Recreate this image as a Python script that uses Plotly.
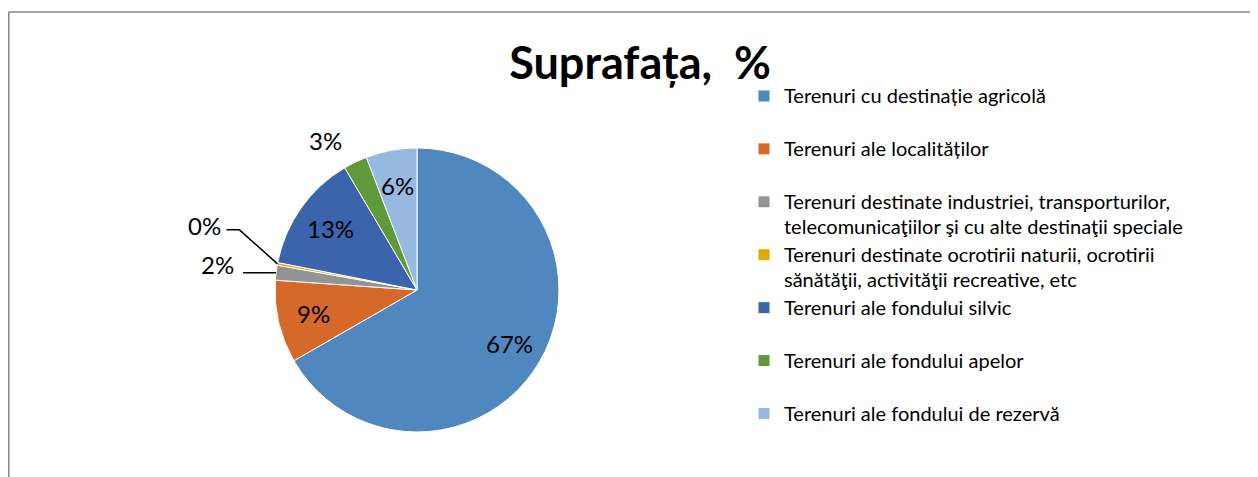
import math
import plotly.graph_objects as go

categories = [
    "Terenuri cu destinație agricolă",
    "Terenuri ale localităților",
    "Terenuri destinate industriei, transporturilor,<br>telecomunicaţiilor şi cu alte destinaţii speciale",
    "Terenuri destinate ocrotirii naturii, ocrotirii<br>sănătăţii, activităţii recreative, etc",
    "Terenuri ale fondului silvic",
    "Terenuri ale fondului apelor",
    "Terenuri ale fondului de rezervă",
]
values = [66.7, 9.4, 1.7, 0.3, 13.4, 2.7, 5.8]
colors = ["#4F87BE", "#D4692A", "#939393", "#E3A800", "#3C64AC", "#5F993A", "#97B9E0"]
# labels drawn inside the slices; the others are placed outside as callouts
inside_label = [True, True, False, False, True, False, True]
# pixel offsets (label centre relative to slice edge) for outside callouts
callout_offsets = {2: (-59, -8), 3: (-73, -38), 5: (-30, -22)}
# leader line vertices (pixel offsets from slice edge)
leader_lines = {2: [(0, 0), (-33, 0)], 3: [(0, 0), (-38, -34), (-51, -34)]}

W, H = 1250, 469
FONT = "Lato, 'Noto Sans', sans-serif"

# pie placement (pixels inside the figure)
CX, CY, R = 409, 282, 142
INSIDE_FRAC = 0.75

legend_labels = [
    '<span style="font-size:20px">' + c.replace("<br>", '</span><br><span style="font-size:20px">') + "</span>"
    + ("" if "<br>" in c else "<br> ")
    for c in categories
]
total = sum(values)
pct_text = [f"{round(100 * v / total)}%" for v in values]

fig = go.Figure(
    go.Pie(
        labels=legend_labels,
        values=values,
        sort=False,
        direction="clockwise",
        rotation=0,
        marker=dict(colors=colors, line=dict(color="white", width=1)),
        textinfo="none",
        hovertext=pct_text,
        hoverinfo="text",
        domain=dict(x=[(CX - R) / W, (CX + R) / W], y=[1 - (CY + R) / H, 1 - (CY - R) / H]),
    )
)


def px2paper(x, y):
    return x / W, 1 - y / H


annotations = []
shapes = [
    dict(type="line", xref="paper", yref="paper", x0=0.75 / W, x1=1, y0=1 - 4 / H, y1=1 - 4 / H,
         line=dict(color="#878787", width=1.5)),
    dict(type="line", xref="paper", yref="paper", x0=0.75 / W, x1=0.75 / W, y0=1 - 4 / H, y1=0,
         line=dict(color="#878787", width=1.5)),
]
lab_font = dict(family=FONT, size=24, color="black")
cum = 0.0
for i, v in enumerate(values):
    mid = (cum + v / 2) / total * 2 * math.pi
    cum += v
    if inside_label[i]:
        lx = CX + INSIDE_FRAC * R * math.sin(mid)
        ly = CY - INSIDE_FRAC * R * math.cos(mid)
    else:
        ex = CX + R * math.sin(mid)
        ey = CY - R * math.cos(mid)
        dx, dy = callout_offsets[i]
        lx, ly = ex + dx, ey + dy
        if i in leader_lines:
            pts = [px2paper(ex + ox, ey + oy) for ox, oy in leader_lines[i]]
            path = "M " + " L ".join(f"{a:.5f},{b:.5f}" for a, b in pts)
            shapes.append(dict(type="path", xref="paper", yref="paper", path=path,
                               line=dict(color="black", width=1.5)))
    ax_, ay_ = px2paper(lx, ly)
    annotations.append(dict(
        x=ax_, y=ay_, xref="paper", yref="paper", xanchor="center", yanchor="middle",
        text=pct_text[i], showarrow=False, font=lab_font,
    ))

fig.update_layout(
    width=W,
    height=H,
    margin=dict(l=0, r=0, t=0, b=0),
    paper_bgcolor="white",
    plot_bgcolor="white",
    font=dict(family=FONT, color="black"),
    title=dict(
        text="<b>Suprafața,  %</b>",
        x=632 / W,
        xanchor="center",
        y=1 - 55 / H,
        yanchor="middle",
        font=dict(family=FONT, size=45, color="black"),
    ),
    legend=dict(
        x=736 / W,
        xanchor="left",
        y=1 - 69 / H,
        yanchor="top",
        valign="top",
        font=dict(family=FONT, size=19.2, color="black"),
        bgcolor="rgba(0,0,0,0)",
        traceorder="normal",
    ),
    annotations=annotations,
    shapes=shapes,
)

fig.write_html("out.html")
